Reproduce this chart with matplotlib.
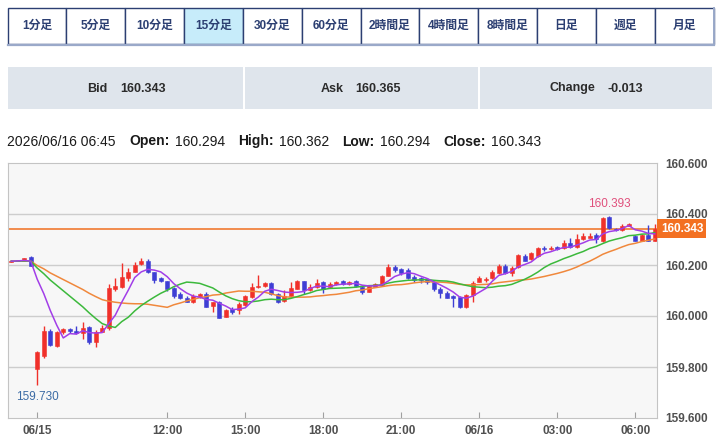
import matplotlib
matplotlib.use("Agg")
import matplotlib.pyplot as plt
from matplotlib.patches import Rectangle
from matplotlib.transforms import blended_transform_factory

plt.rcParams['font.family'] = ['Liberation Sans', 'Noto Sans CJK JP', 'DejaVu Sans']

# ---- データ (USD/JPY 15分足) ----
tabs = ['1分足', '5分足', '10分足', '15分足', '30分足', '60分足',
        '2時間足', '4時間足', '8時間足', '日足', '週足', '月足']
active_tab = '15分足'

bid = 160.343
ask = 160.365
change = -0.013

bar_time = '2026/06/16 06:45'

x_tick_pos = [4, 24, 36, 48, 60, 72, 84, 96]
x_tick_labels = ['06/15', '12:00', '15:00', '18:00', '21:00', '06/16', '03:00', '06:00']
y_ticks = [159.6, 159.8, 160.0, 160.2, 160.4, 160.6]

opens = [160.212, 160.216, 160.217, 160.233, 159.792, 159.844, 159.941, 159.884, 159.936, 159.949,
         159.941, 159.932, 159.958, 159.897, 159.939, 159.952, 160.106, 160.115, 160.148, 160.174,
         160.203, 160.216, 160.171, 160.148, 160.137, 160.108, 160.085, 160.072, 160.056, 160.075,
         160.085, 160.040, 160.054, 159.997, 160.026, 160.022, 160.045, 160.073, 160.112, 160.116,
         160.129, 160.088, 160.060, 160.077, 160.107, 160.136, 160.103, 160.114, 160.134, 160.113,
         160.124, 160.136, 160.126, 160.136, 160.115, 160.095, 160.115, 160.122, 160.158, 160.193,
         160.183, 160.180, 160.154, 160.148, 160.145, 160.132, 160.104, 160.091, 160.077, 160.076,
         160.034, 160.082, 160.135, 160.141, 160.148, 160.167, 160.196, 160.167, 160.193, 160.235,
         160.222, 160.235, 160.265, 160.263, 160.272, 160.265, 160.288, 160.272, 160.301, 160.307,
         160.318, 160.295, 160.387, 160.340, 160.337, 160.353, 160.314, 160.295, 160.318, 160.294]
highs = [160.220, 160.221, 160.228, 160.236, 159.863, 159.961, 159.948, 159.941, 159.952, 159.953,
         159.961, 159.975, 159.962, 159.945, 159.965, 160.125, 160.148, 160.207, 160.187, 160.210,
         160.226, 160.224, 160.173, 160.154, 160.139, 160.115, 160.095, 160.080, 160.085, 160.090,
         160.093, 160.056, 160.058, 160.026, 160.034, 160.054, 160.082, 160.128, 160.161, 160.133,
         160.134, 160.092, 160.102, 160.135, 160.142, 160.138, 160.125, 160.144, 160.139, 160.135,
         160.138, 160.141, 160.139, 160.140, 160.122, 160.122, 160.130, 160.162, 160.203, 160.200,
         160.187, 160.187, 160.160, 160.152, 160.150, 160.137, 160.115, 160.097, 160.082, 160.080,
         160.086, 160.139, 160.157, 160.154, 160.180, 160.204, 160.203, 160.196, 160.242, 160.242,
         160.252, 160.269, 160.275, 160.275, 160.276, 160.298, 160.307, 160.320, 160.327, 160.327,
         160.327, 160.387, 160.393, 160.345, 160.361, 160.366, 160.318, 160.320, 160.355, 160.362]
lows = [160.210, 160.215, 160.216, 160.195, 159.730, 159.837, 159.884, 159.880, 159.931, 159.933,
        159.928, 159.910, 159.892, 159.880, 159.937, 159.945, 160.098, 160.108, 160.137, 160.171,
        160.200, 160.167, 160.128, 160.132, 160.098, 160.072, 160.067, 160.054, 160.050, 160.072,
        160.035, 160.014, 159.992, 159.995, 160.008, 160.008, 160.040, 160.069, 160.110, 160.113,
        160.082, 160.050, 160.056, 160.073, 160.104, 160.086, 160.100, 160.111, 160.091, 160.110,
        160.120, 160.123, 160.122, 160.113, 160.085, 160.093, 160.112, 160.118, 160.155, 160.171,
        160.161, 160.146, 160.135, 160.128, 160.124, 160.100, 160.072, 160.069, 160.037, 160.032,
        160.032, 160.056, 160.133, 160.135, 160.145, 160.163, 160.165, 160.157, 160.190, 160.214,
        160.218, 160.232, 160.256, 160.258, 160.260, 160.262, 160.268, 160.268, 160.298, 160.305,
        160.285, 160.291, 160.340, 160.333, 160.335, 160.351, 160.293, 160.293, 160.293, 160.294]
closes = [160.217, 160.219, 160.226, 160.196, 159.860, 159.941, 159.886, 159.936, 159.949, 159.942,
          159.933, 159.952, 159.897, 159.939, 159.952, 160.108, 160.119, 160.154, 160.174, 160.200,
          160.216, 160.171, 160.141, 160.137, 160.106, 160.080, 160.069, 160.056, 160.080, 160.085,
          160.037, 160.054, 159.993, 160.024, 160.016, 160.048, 160.079, 160.112, 160.116, 160.129,
          160.087, 160.056, 160.080, 160.108, 160.136, 160.101, 160.113, 160.129, 160.107, 160.127,
          160.134, 160.127, 160.135, 160.117, 160.093, 160.119, 160.124, 160.158, 160.193, 160.180,
          160.167, 160.150, 160.141, 160.141, 160.135, 160.105, 160.090, 160.072, 160.070, 160.034,
          160.082, 160.131, 160.148, 160.147, 160.174, 160.196, 160.167, 160.190, 160.239, 160.217,
          160.248, 160.265, 160.262, 160.268, 160.262, 160.288, 160.272, 160.301, 160.314, 160.313,
          160.301, 160.383, 160.344, 160.336, 160.353, 160.361, 160.295, 160.318, 160.295, 160.343]

# 移動平均線 (紫: 短期, 緑: 中期, 橙: 長期)
ma_short = [160.215, 160.216, 160.218, 160.215, 160.144, 160.088, 160.022, 159.964, 159.914, 159.931,
            159.929, 159.942, 159.935, 159.933, 159.935, 159.970, 160.003, 160.054, 160.101, 160.151,
            160.173, 160.183, 160.180, 160.173, 160.154, 160.127, 160.107, 160.090, 160.078, 160.074,
            160.065, 160.062, 160.050, 160.039, 160.025, 160.027, 160.032, 160.056, 160.074, 160.097,
            160.105, 160.100, 160.094, 160.092, 160.093, 160.096, 160.108, 160.117, 160.117, 160.115,
            160.122, 160.125, 160.126, 160.128, 160.121, 160.118, 160.118, 160.122, 160.137, 160.155,
            160.164, 160.170, 160.166, 160.156, 160.147, 160.134, 160.122, 160.109, 160.094, 160.074,
            160.070, 160.078, 160.093, 160.108, 160.136, 160.159, 160.166, 160.175, 160.193, 160.202,
            160.212, 160.232, 160.246, 160.252, 160.261, 160.269, 160.270, 160.278, 160.287, 160.298,
            160.300, 160.322, 160.331, 160.335, 160.343, 160.355, 160.338, 160.333, 160.324, 160.322]
ma_mid = [160.215, 160.215, 160.216, 160.215, 160.188, 160.166, 160.141, 160.120, 160.099, 160.078,
          160.057, 160.036, 160.012, 159.990, 159.970, 159.961, 159.955, 159.978, 159.995, 160.020,
          160.041, 160.058, 160.074, 160.089, 160.101, 160.115, 160.125, 160.133, 160.131, 160.128,
          160.119, 160.110, 160.094, 160.079, 160.068, 160.060, 160.056, 160.056, 160.059, 160.064,
          160.066, 160.064, 160.064, 160.069, 160.076, 160.084, 160.091, 160.100, 160.104, 160.108,
          160.109, 160.110, 160.111, 160.113, 160.116, 160.119, 160.120, 160.122, 160.129, 160.134,
          160.137, 160.140, 160.141, 160.142, 160.143, 160.140, 160.138, 160.137, 160.133, 160.126,
          160.120, 160.115, 160.113, 160.111, 160.113, 160.117, 160.119, 160.124, 160.134, 160.144,
          160.157, 160.172, 160.190, 160.204, 160.214, 160.225, 160.234, 160.244, 160.253, 160.265,
          160.273, 160.284, 160.294, 160.301, 160.307, 160.315, 160.317, 160.321, 160.322, 160.327]
ma_long = [160.215, 160.215, 160.216, 160.215, 160.198, 160.185, 160.169, 160.156, 160.143, 160.130,
           160.117, 160.104, 160.089, 160.076, 160.064, 160.058, 160.054, 160.051, 160.049, 160.048,
           160.048, 160.046, 160.042, 160.038, 160.034, 160.044, 160.051, 160.059, 160.065, 160.072,
           160.076, 160.082, 160.084, 160.090, 160.094, 160.098, 160.097, 160.097, 160.095, 160.093,
           160.087, 160.080, 160.075, 160.074, 160.074, 160.074, 160.075, 160.078, 160.080, 160.083,
           160.085, 160.089, 160.093, 160.099, 160.102, 160.107, 160.111, 160.115, 160.119, 160.122,
           160.123, 160.126, 160.130, 160.133, 160.135, 160.133, 160.133, 160.131, 160.128, 160.124,
           160.122, 160.122, 160.123, 160.124, 160.126, 160.131, 160.134, 160.137, 160.141, 160.142,
           160.145, 160.150, 160.155, 160.161, 160.167, 160.174, 160.182, 160.192, 160.204, 160.215,
           160.228, 160.242, 160.252, 160.261, 160.271, 160.280, 160.285, 160.292, 160.297, 160.302]

UP = '#f0302a'
DOWN = '#3e3ed4'
NAVY = '#2c3f72'

W, H = 720, 441
fig = plt.figure(figsize=(W / 100, H / 100), dpi=100)

# ---- 画面上部 (ピクセル座標) ----
page = fig.add_axes([0, 0, 1, 1])
page.set_xlim(0, W)
page.set_ylim(H, 0)
page.axis('off')

tab_x0, tab_w = 7.5, 706 / 12
for k, name in enumerate(tabs):
    x0 = tab_x0 + k * tab_w
    face = '#c7ecfa' if name == active_tab else 'white'
    page.add_patch(Rectangle((x0, 7.5), tab_w, 36, fc=face, ec=NAVY, lw=1))
    page.text(x0 + tab_w / 2, 25.5, name, ha='center', va='center',
              fontsize=8.5, fontweight='bold', color=NAVY)
page.plot([tab_x0, tab_x0 + 12 * tab_w], [44.5, 44.5], color='#9aa9c9', lw=1.6)
page.plot([tab_x0 + 12 * tab_w + 0.8] * 2, [8, 44.5], color='#9aa9c9', lw=1.4)

boxes = [(8, 235, 'Bid', f'{bid:.3f}', 87, 120.5),
         (245, 233, 'Ask', f'{ask:.3f}', 321, 355),
         (480, 232, 'Change', f'{change:.3f}', 550, 608)]
for x0, w, label, val, tx, vx in boxes:
    page.add_patch(Rectangle((x0, 66.5), w, 42.5, fc='#dfe5ec', ec='none'))
    page.text(tx, 88.5, label, ha='left', va='center', fontsize=9,
              fontweight='bold', color='#2b2b2b')
    page.text(vx, 88.5, val, ha='left', va='center',
              fontsize=9, fontweight='bold', color='#2b2b2b')

header = [(bar_time, False, 7),
          ('Open:', True, 129), (f'{opens[-1]:.3f}', False, 175),
          ('High:', True, 238), (f'{highs[-1]:.3f}', False, 279),
          ('Low:', True, 342.5), (f'{lows[-1]:.3f}', False, 380),
          ('Close:', True, 443), (f'{closes[-1]:.3f}', False, 491)]
for txt, bold, tx in header:
    page.text(tx, 141.5, txt, ha='left', va='center', fontsize=10,
              fontweight='bold' if bold else 'normal', color='#1a1a1a')

# ---- ローソク足チャート ----
ax = fig.add_axes([8 / W, 1 - 418 / H, 649 / W, 255 / H])
ax.set_facecolor('#f7f7f7')
n = len(closes)
xs = list(range(n))
ax.set_xlim(-0.5, 99.35)
ax.set_ylim(y_ticks[0], y_ticks[-1])

for y in y_ticks[1:-1]:
    ax.axhline(y, color='#cdcdcd', lw=1, zorder=1)

last = closes[-1]
ax.axhline(last, color='#f07a30', lw=1.2, zorder=2)

cols = [UP if c >= o else DOWN for o, c in zip(opens, closes)]
ax.vlines(xs, lows, highs, colors=cols, lw=1, zorder=3)
bottoms = [min(o, c) for o, c in zip(opens, closes)]
heights = [max(abs(c - o), 0.0025) for o, c in zip(opens, closes)]
ax.bar(xs, heights, bottom=bottoms, width=0.64, color=cols, edgecolor=cols,
       lw=0.4, zorder=4)

ax.plot(xs, ma_long, color='#f0883c', lw=1.1, zorder=5)
ax.plot(xs, ma_mid, color='#3cb93c', lw=1.1, zorder=5)
ax.plot(xs, ma_short, color='#a23ee8', lw=1.1, zorder=6)

i_max = highs.index(max(highs))
i_min = lows.index(min(lows))
ax.annotate(f'{highs[i_max]:.3f}', (i_max, highs[i_max]), xytext=(0, 4),
            textcoords='offset points', ha='center', va='bottom',
            fontsize=8.5, color='#e0507c')
ax.annotate(f'{lows[i_min]:.3f}', (i_min, lows[i_min]), xytext=(0, -4.5),
            textcoords='offset points', ha='center', va='top',
            fontsize=8.5, color='#3b6ba5')

tr = blended_transform_factory(ax.transAxes, ax.transData)
ax.text(1.0058, last, f'{last:.3f}', transform=tr, ha='left', va='center',
        fontsize=8.5, fontweight='bold', color='white', clip_on=False,
        bbox=dict(boxstyle='square,pad=0.28', fc='#f37021', ec='none'))

ax.set_yticks(y_ticks)
ax.set_yticklabels([f'{v:.3f}' for v in y_ticks])
ax.yaxis.tick_right()
ax.set_xticks(x_tick_pos)
ax.set_xticklabels(x_tick_labels)
ax.tick_params(axis='y', length=0, pad=6, labelsize=8.5, labelcolor='#505050')
ax.tick_params(axis='x', direction='in', length=4, color='#a0a0a0', pad=5,
               labelsize=8.5, labelcolor='#505050')
for lab in ax.get_xticklabels() + ax.get_yticklabels():
    lab.set_fontweight('bold')
for sp in ax.spines.values():
    sp.set_color('#c4c4c4')

fig.savefig('out.png', dpi=100)
